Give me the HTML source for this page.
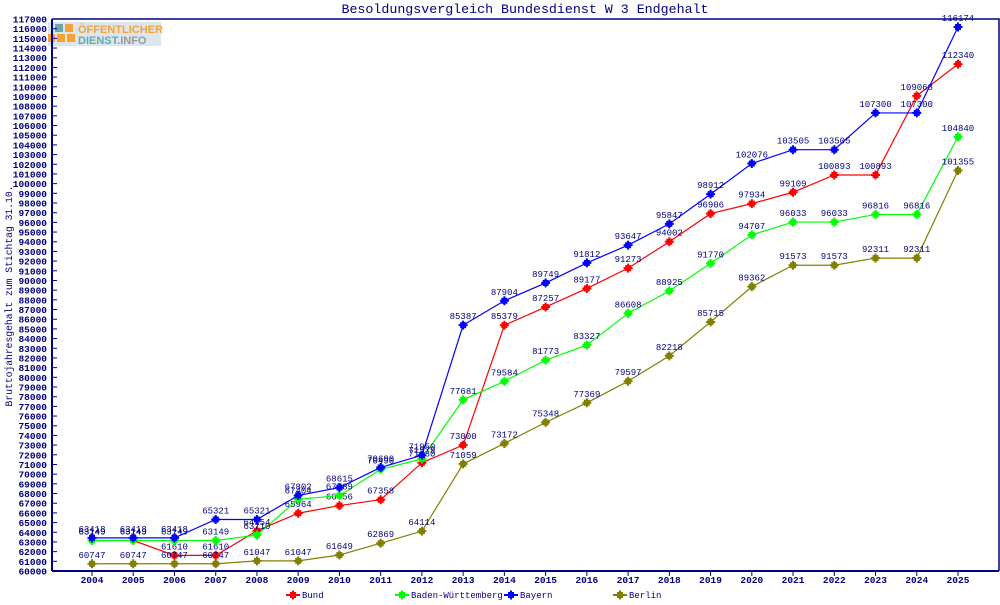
<!DOCTYPE html>
<html><head><meta charset="utf-8"><style>
body{margin:0;background:#fff;}
svg text{font-family:"Liberation Mono",monospace;fill:#000080;}
</style></head><body>
<svg id="chart" width="1000" height="600" xmlns="http://www.w3.org/2000/svg">
<text x="525" y="13" text-anchor="middle" font-size="13.3">Besoldungsvergleich Bundesdienst W 3 Endgehalt</text>
<g>
<rect x="48" y="22" width="113" height="24" fill="#dbe6ee"/>
<rect x="55" y="24" width="8" height="8" fill="#6aa"/><rect x="65" y="24" width="8" height="8" fill="#f7a233"/>
<rect x="48" y="34" width="7" height="8" fill="#f7a233"/><rect x="57" y="34" width="8" height="8" fill="#f7a233"/><rect x="67" y="34" width="8" height="8" fill="#f7a233"/>
<text x="78" y="33" font-size="11" font-weight="bold" style="fill:#f7a233;font-family:'Liberation Sans',sans-serif">ÖFFENTLICHER</text>
<text x="78" y="44" font-size="11" font-weight="bold" style="fill:#6aa;font-family:'Liberation Sans',sans-serif">DIENST.<tspan style="fill:#999">INFO</tspan></text>
</g>
<text transform="translate(12,296) rotate(-90)" text-anchor="middle" font-size="9.7">Bruttojahresgehalt zum Stichtag 31.10.</text>
<g id="axes"></g>
<g id="series"></g>
<g id="legend"></g>
</svg>
<script>
const years=[2004,2005,2006,2007,2008,2009,2010,2011,2012,2013,2014,2015,2016,2017,2018,2019,2020,2021,2022,2023,2024,2025];
const bund=[63149,63149,61610,61610,64154,65964,66756,67358,71180,73000,85379,87257,89177,91273,94002,96906,97934,99109,100893,100893,109068,112340];
const bw=[63149,63149,63149,63149,63710,67404,67789,70490,71579,77681,79584,81773,83327,86608,88925,91770,94707,96033,96033,96816,96816,104840];
const bayern=[63418,63418,63418,65321,65321,67802,68615,70690,71950,85387,87904,89749,91812,93647,95847,98912,102076,103505,103505,107300,107300,116174];
const berlin=[60747,60747,60747,60747,61047,61047,61649,62869,64114,71059,73172,75348,77369,79597,82218,85715,89362,91573,91573,92311,92311,101355];
const seriesNames=["Bund","Baden-Württemberg","Bayern","Berlin"];
const yMin=60000,yMax=117000,yStep=1000;
const L=52,R=999,T=19,B=571;
const X0=92,X1=958;
function xs(i){return X0+(X1-X0)*i/(years.length-1);}
function ys(v){return B-(v-yMin)/(yMax-yMin)*(B-T);}
const NS="http://www.w3.org/2000/svg";
function mk(tag,at,parent){const e=document.createElementNS(NS,tag);for(const k in at)e.setAttribute(k,at[k]);parent.appendChild(e);return e;}
const ax=document.getElementById('axes');
let fr=mk('path',{d:`M${L},${T}H${R}V${B}`,fill:'none',stroke:'#000080','stroke-width':1.5},ax);


let yl=mk('line',{x1:L,y1:T,x2:L,y2:B,stroke:'#000080','stroke-width':2},ax);


let xl=mk('line',{x1:L,y1:B,x2:R,y2:B,stroke:'#000080','stroke-width':2},ax);


for(let v=yMin;v<=yMax;v+=yStep){
  const y=ys(v);
  mk('line',{x1:L,y1:y,x2:L+5,y2:y,stroke:'#000080'},ax);
  const t=mk('text',{x:L-5,y:y+3.5,'text-anchor':'end','font-size':9.5,'font-weight':'bold'},ax);
  t.textContent=v;
  
  
}
years.forEach((yr,i)=>{
  const x=xs(i);
  mk('line',{x1:x,y1:B,x2:x,y2:B+5,stroke:'#000080'},ax);
  const t=mk('text',{x:x,y:B+12,'text-anchor':'middle','font-size':9.5,'font-weight':'bold'},ax);
  t.textContent=yr;
  
  
});
const data=[bund,bw,bayern,berlin];
const colors=['#ff0000','#00ff00','#0000ff','#808000'];
const sg=document.getElementById('series');
function marker(x,y,c,p){
  mk('rect',{x:x-3,y:y-3,width:6,height:6,fill:c},p);
  mk('path',{d:`M${x-4.5},${y}H${x+4.5}M${x},${y-4.5}V${y+4.5}`,stroke:c,'stroke-width':2},p);
}
data.forEach((arr,si)=>{
  const g=mk('g',{},sg);
  
  
  const pts=arr.map((v,i)=>xs(i)+','+ys(v)).join(' ');
  mk('polyline',{points:pts,fill:'none',stroke:colors[si],'stroke-width':1.2},g);
  arr.forEach((v,i)=>{
    const m=mk('g',{},g);
    
    
    marker(xs(i),ys(v),colors[si],m);
    const t=mk('text',{x:xs(i),y:ys(v)-6,'text-anchor':'middle','font-size':9},g);
    t.textContent=v;
    
    
  });
});
const lg=document.getElementById('legend');
const lx=[286,395,504,613];
seriesNames.forEach((n,i)=>{
  const g=mk('g',{},lg);
  
  
  mk('line',{x1:lx[i],y1:595,x2:lx[i]+14,y2:595,stroke:colors[i],'stroke-width':2},g);
  marker(lx[i]+7,595,colors[i],g);
  const t=mk('text',{x:lx[i]+16,y:598,'font-size':9},g);
  t.textContent=n;
});
</script>
</body></html>
